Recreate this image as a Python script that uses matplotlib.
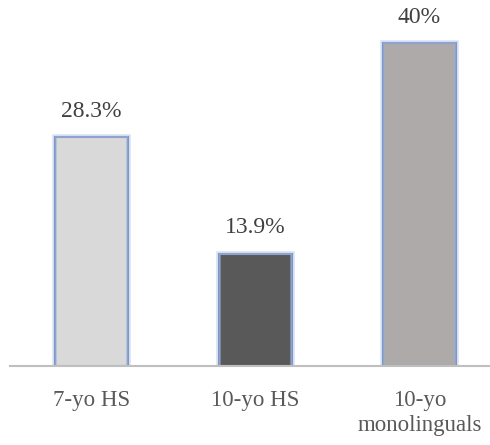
import matplotlib.pyplot as plt

groups = ['7-yo HS', '10-yo HS', '10-yo\nmonolinguals']
values = [28.3, 13.9, 40.0]
labels = ['28.3%', '13.9%', '40%']
fills = ['#d9d9d9', '#595959', '#aeaaaa']

plt.rcParams['font.family'] = ['Liberation Serif', 'DejaVu Serif']

fig = plt.figure(figsize=(4.9, 4.45), dpi=100)
ax = fig.add_axes([10 / 490, 79 / 445, 480 / 490, 366 / 445])

x = range(len(values))
# soft blue glow around each bar, then the bar itself with a thin edge
ax.bar(x, values, width=0.445, color='none', edgecolor='#4472c4', linewidth=4, alpha=0.2)
ax.bar(x, values, width=0.445, color=fills, edgecolor='#7f96c8', linewidth=1.5)
ax.bar(x, values, width=0.43, color='none', edgecolor='#9fb0d6', linewidth=1.5, alpha=0.5)

for i, (v, t) in enumerate(zip(values, labels)):
    ax.annotate(t, (i, v), xytext=(0, 11), textcoords='offset points',
                ha='center', va='bottom', fontsize=17, color='#404040')

ax.set_xlim(-0.497, 2.43)
ax.set_ylim(0, 45.3)
ax.set_xticks(list(x))
ax.set_xticklabels(groups, fontsize=16.5, color='#595959', linespacing=1.3)
ax.tick_params(axis='x', length=0, pad=17)
ax.set_yticks([])
for side in ['top', 'right', 'left']:
    ax.spines[side].set_visible(False)
ax.spines['bottom'].set_color('#bfbfbf')
ax.spines['bottom'].set_linewidth(1.5)

fig.savefig('out.png', dpi=100)
